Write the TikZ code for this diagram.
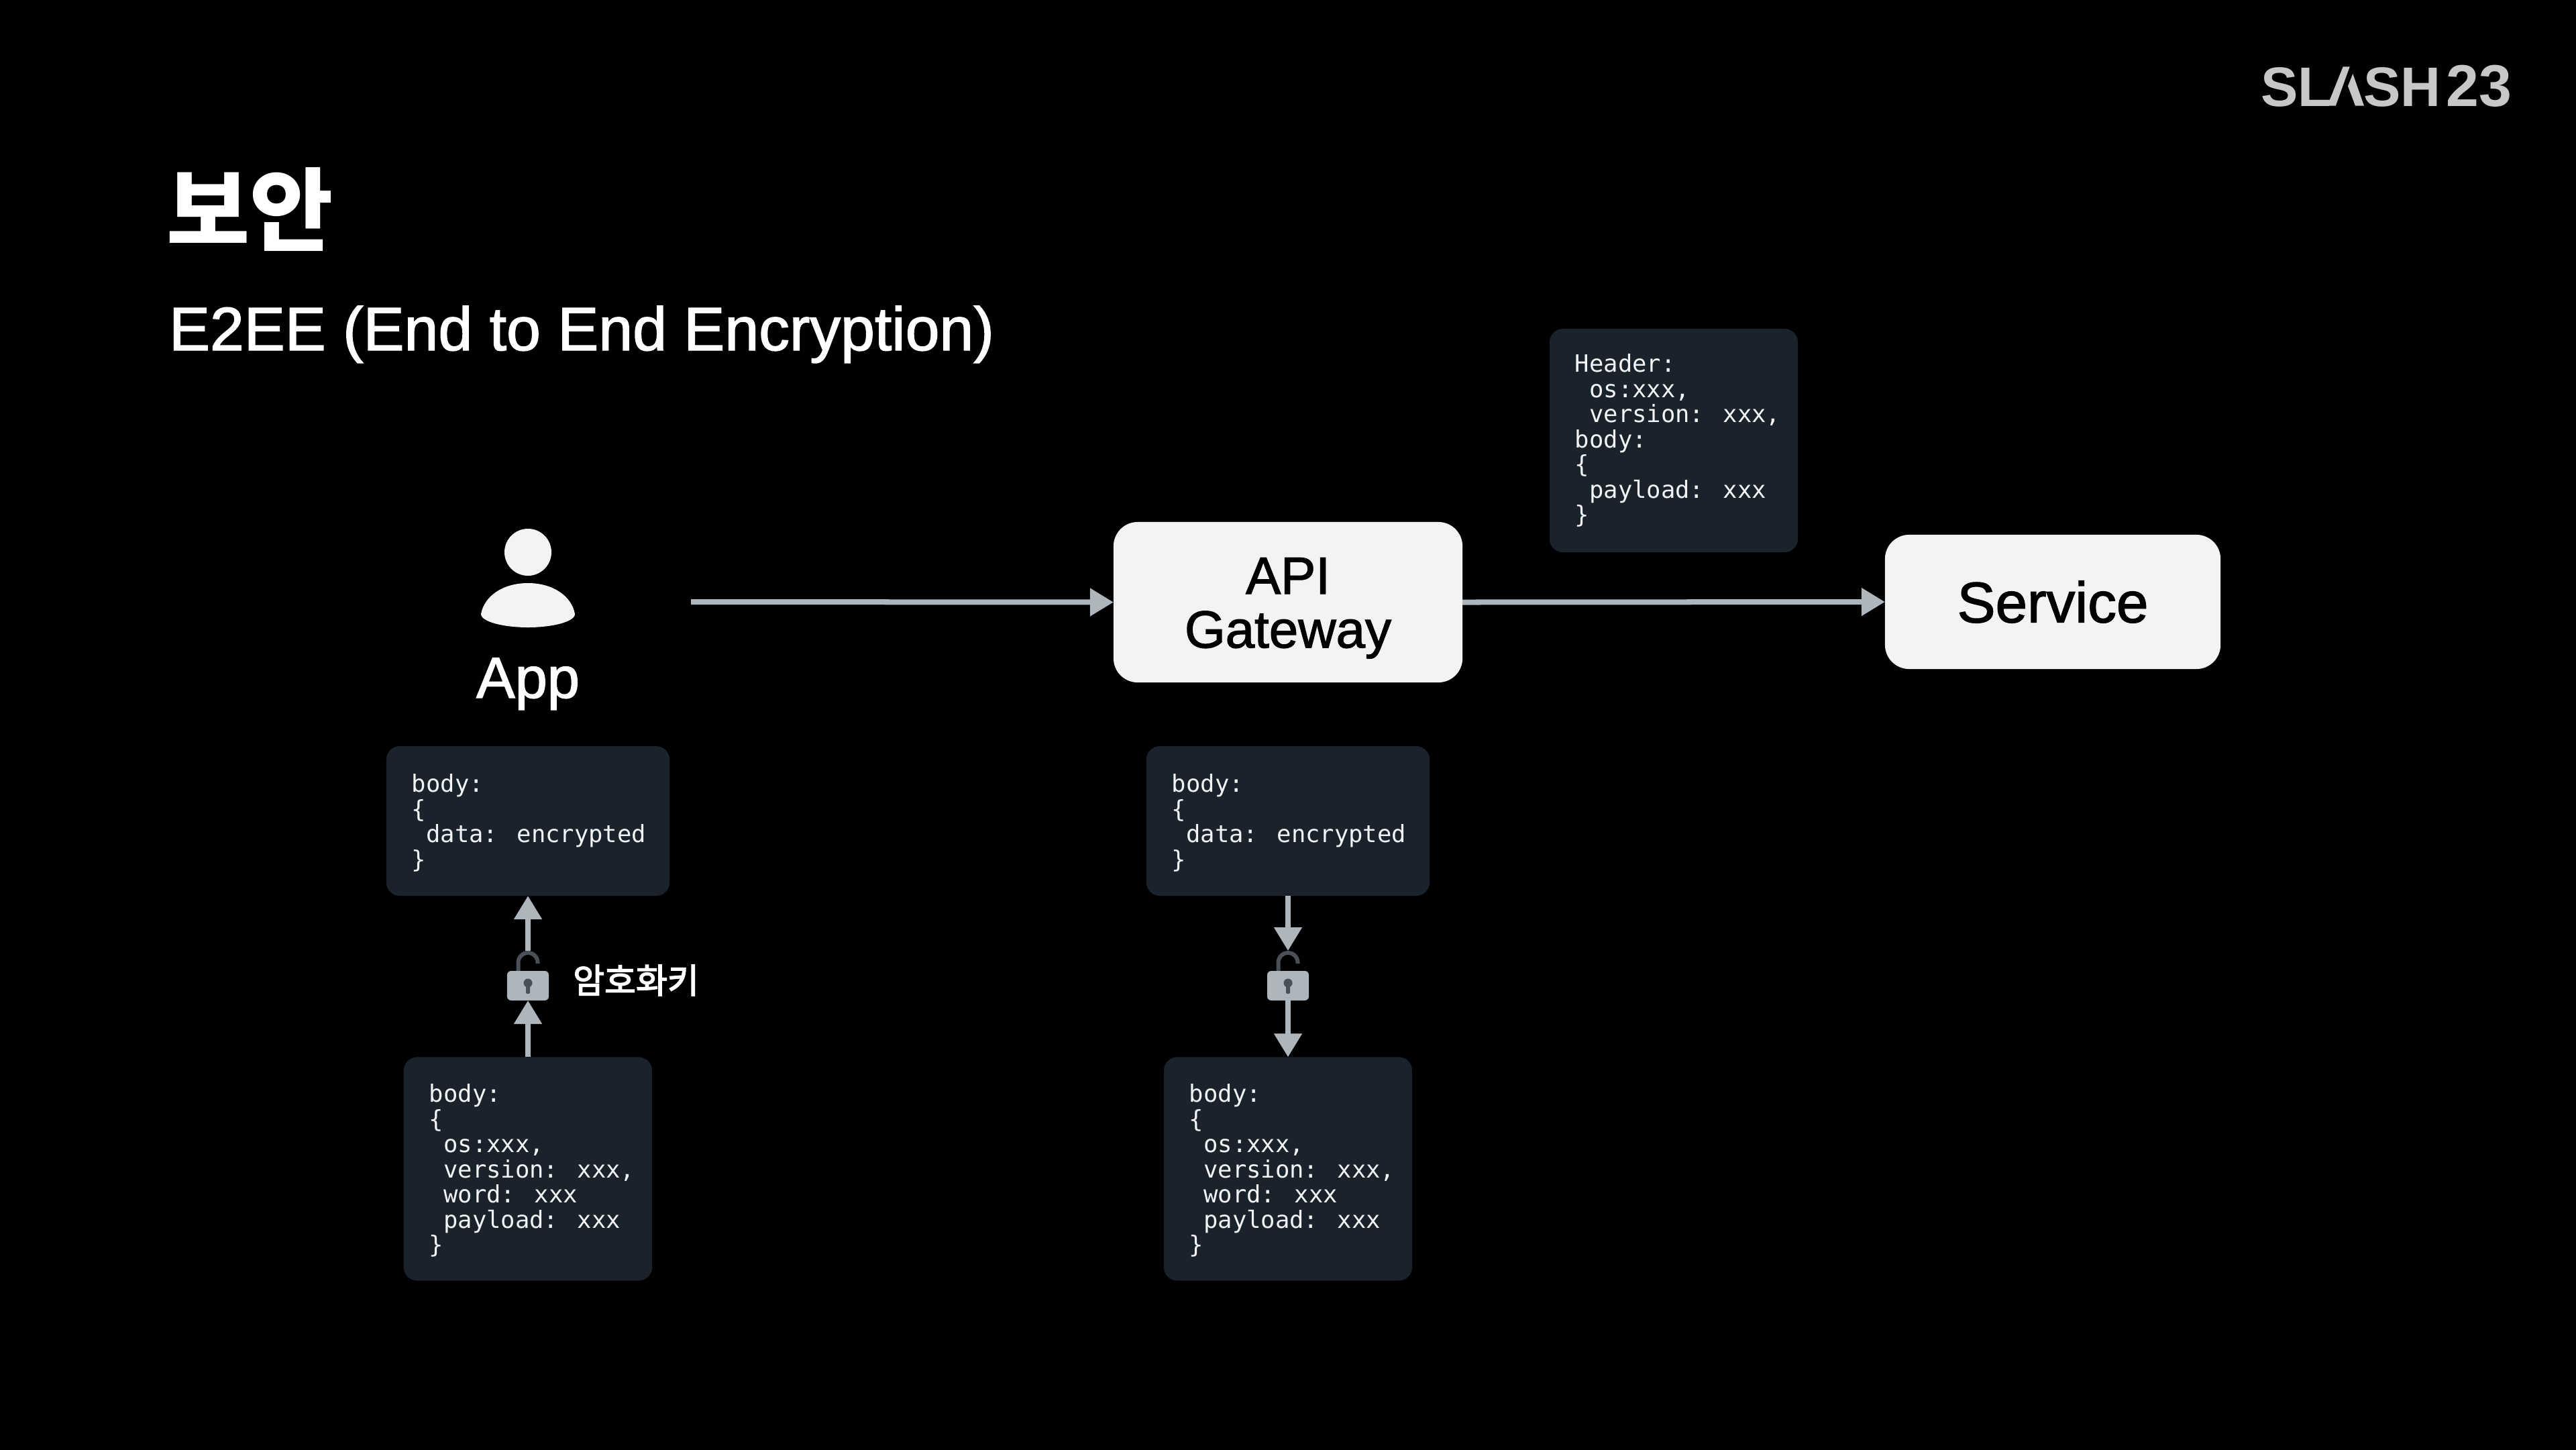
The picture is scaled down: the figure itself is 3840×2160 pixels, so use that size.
\documentclass[tikz,border=0pt]{standalone}
\usepackage{fontspec}
\usetikzlibrary{arrows.meta}
\setmainfont{Liberation Sans}
\newfontfamily\medfont[FakeBold=1.6]{Liberation Sans}
\newfontfamily\cjk{Noto Sans CJK KR}
\newfontfamily\cjkmed[FakeBold=3]{Noto Sans CJK KR}
\newfontfamily\codefont{DejaVu Sans Mono}
\definecolor{bgblack}{HTML}{000000}
\definecolor{lightfill}{HTML}{F1F3F5}
\definecolor{darkbox}{HTML}{1A222B}
\definecolor{arrowgray}{HTML}{ADB5BD}
\definecolor{lockdark}{HTML}{495057}
\definecolor{logogray}{HTML}{C6C7C8}
\newcommand{\ci}{\hspace*{6.07pt}}
\newcommand{\topstrut}{\rule{0pt}{9.2pt}}
\tikzset{
  x=0.01cm, y=-0.01cm,
  every node/.style={inner sep=0pt, outer sep=0pt},
  flow/.style={draw=arrowgray, line width=0.08cm, -{Triangle[length=0.35cm,width=0.40cm]}},
  codebox/.style={fill=darkbox, rounded corners=0.2cm, text=lightfill, align=flush left,
    inner xsep=0.38cm,
    font=\codefont\fontsize{10.1pt}{10.66pt}\selectfont},
  wide/.style={text width=3.46cm, minimum width=4.22cm, minimum height=2.23cm},
  tall/.style={text width=2.94cm, minimum width=3.70cm, minimum height=3.33cm},
  whitebox/.style={fill=lightfill, rounded corners=0.36cm, text=black, align=center},
  padlock/.pic={
    \draw[lockdark, line width=0.06cm] (-14.5,-22) -- (-14.5,-34.5) arc[start angle=180,end angle=360,x radius=14.5,y radius=14.5] -- (14.5,-33);
    \node[fill=arrowgray, rounded corners=0.06cm, minimum width=0.62cm, minimum height=0.44cm] (-body) at (0,0) {};
    \fill[lockdark] (0,-4) circle[radius=6.5];
    \fill[lockdark, rounded corners=0.02cm] (-3,-4) rectangle (3,12);
    \coordinate (-top) at (0,-52);
  }
}
\begin{document}
\begin{tikzpicture}
\path[use as bounding box] (0,0) rectangle (3840,2160);
\fill[bgblack] (-10,-10) rectangle (3850,2170);

% logo
\node[anchor=base west, text=logogray, font=\bfseries\fontsize{23.6pt}{24pt}\selectfont] (logo) at (3370,158)
  {SL\kern-1.7pt{\color{bgblack}A}\kern-2pt SH \kern-4.3pt {\fontsize{25pt}{24pt}\selectfont 23}};
\fill[logogray] (3469.3,157.7) -- (3481.7,157.7) -- (3502.7,99.3) -- (3492.7,99.3) -- cycle;
\fill[logogray] (3507.3,110) -- (3524,157.7) -- (3511,157.7) -- (3500,128.3) -- cycle;

% titles
\node[anchor=base west, text=white, font=\cjk\bfseries\fontsize{38.4pt}{39pt}\selectfont] (title) at (248,363) {보안};
\node[anchor=base west, text=white, font=\medfont\fontsize{26pt}{27pt}\selectfont] (subtitle) at (252,522) {E2EE (End to End Encryption)};

% person
\fill[lightfill] (787,823) circle[radius=35];
\fill[lightfill] (717,915) .. controls (722,888) and (750,869) .. (787,869)
   .. controls (824,869) and (852,888) .. (857,915)
   .. controls (857,927) and (822,935) .. (787,935)
   .. controls (752,935) and (717,927) .. (717,915) -- cycle;
\node[anchor=base, text=white, font=\medfont\fontsize{24.6pt}{25pt}\selectfont] (app) at (787,1040) {App};
\coordinate (appout) at (1030,897);

% main boxes
\node[whitebox, minimum width=5.20cm, minimum height=2.39cm, font=\medfont\fontsize{22.2pt}{22.8pt}\selectfont] (api) at (1920,897.5) {\rule{0pt}{20.3pt}API\\Gateway};
\node[whitebox, minimum width=5.00cm, minimum height=2.00cm, font=\medfont\fontsize{24.3pt}{25pt}\selectfont] (service) at (3060,897) {Service};

\draw[flow] (appout) -- (api.west);
\draw[flow] (api.east) -- (service.west);

% code boxes
\node[codebox, tall] (hdr) at (2495,656.5)
 {Header:\\\ci os:xxx,\\\ci \mbox{version: xxx,}\\body:\\\{\\\ci \mbox{payload: xxx}\\\}};
\node[codebox, wide] (appenc) at (787,1223.5)
 {\topstrut body:\\\{\\\ci \mbox{data: encrypted}\\\}};
\node[codebox, tall] (appplain) at (787,1742)
 {\topstrut body:\\\{\\\ci os:xxx,\\\ci \mbox{version: xxx,}\\\ci \mbox{word: xxx}\\\ci \mbox{payload: xxx}\\\}};
\node[codebox, wide] (gwenc) at (1920,1223.5)
 {\topstrut body:\\\{\\\ci \mbox{data: encrypted}\\\}};
\node[codebox, tall] (gwplain) at (1920,1742)
 {\topstrut body:\\\{\\\ci os:xxx,\\\ci \mbox{version: xxx,}\\\ci \mbox{word: xxx}\\\ci \mbox{payload: xxx}\\\}};

% locks
\path (787,1469) pic (lockA) {padlock};
\path (1920,1469) pic (lockB) {padlock};

\draw[flow] (appplain.north) -- (lockA-body.south);
\draw[flow] (lockA-top) -- (appenc.south);
\draw[flow] (gwenc.south) -- (lockB-top);
\draw[flow] (lockB-body.south) -- (gwplain.north);

\node[text=white, font=\cjkmed\fontsize{14.5pt}{15pt}\selectfont] (keylabel) at (948,1461) {암호화키};
\end{tikzpicture}
\end{document}
